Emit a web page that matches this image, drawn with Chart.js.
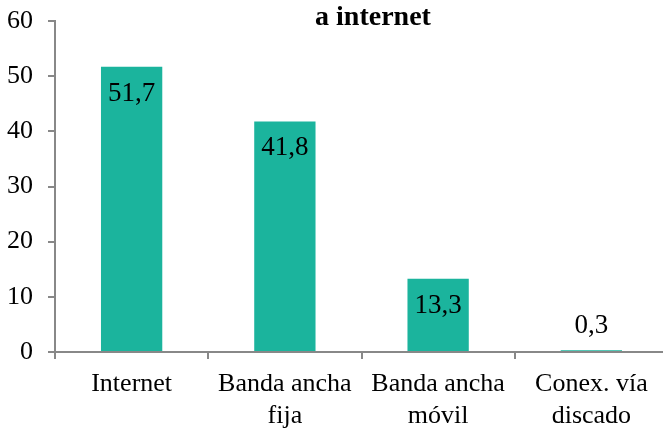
<!DOCTYPE html>
<html>
<head>
<meta charset="utf-8">
<script src="https://cdn.jsdelivr.net/npm/chart.js@4"></script>
<style>
  html, body { margin: 0; padding: 0; background: #fff; overflow: hidden; }
  #wrap { width: 680px; height: 429px; }
</style>
</head>
<body>
<div id="wrap"><canvas id="chart"></canvas></div>
<script>
// datos
const categorias = [['Internet'], ['Banda ancha', 'fija'], ['Banda ancha', 'móvil'], ['Conex. vía', 'discado']];
const valores = [51.7, 41.8, 13.3, 0.3];
const titulo = 'a internet';

const fuente = "'Liberation Serif', 'Times New Roman', serif";

// etiquetas de valor estilo Excel (coma decimal)
const etiquetas = {
  id: 'etiquetas',
  afterDatasetsDraw(chart) {
    const ctx = chart.ctx;
    const meta = chart.getDatasetMeta(0);
    ctx.save();
    ctx.font = '27px ' + fuente;
    ctx.fillStyle = '#000';
    ctx.textAlign = 'center';
    ctx.textBaseline = 'middle';
    meta.data.forEach((bar, i) => {
      const txt = valores[i].toFixed(1).replace('.', ',');
      const alto = bar.base - bar.y;
      const y = alto > 40 ? bar.y + 27 : bar.y - 24;
      ctx.fillText(txt, bar.x, y);
    });
    // título (recortado arriba en el original)
    ctx.font = 'bold 28px ' + fuente;
    ctx.fillText(titulo, 373, 18);
    ctx.restore();
  }
};

const ctx = document.getElementById('chart').getContext('2d');
new Chart(ctx, {
  type: 'bar',
  data: {
    labels: categorias,
    datasets: [{
      data: valores,
      backgroundColor: '#1bb49d',
      barPercentage: 0.4,
      categoryPercentage: 1
    }]
  },
  options: {
    responsive: true,
    maintainAspectRatio: false,
    animation: false,
    layout: { padding: { left: 0, right: 12, top: 21, bottom: 0 } },
    plugins: {
      legend: { display: false },
      title: { display: false },
      tooltip: { enabled: false }
    },
    scales: {
      x: {
        afterFit(scale) { scale.height = 77; },
        grid: { drawOnChartArea: false, offset: true, color: '#888', lineWidth: 2, tickLength: 7 },
        border: { color: '#888', width: 2 },
        ticks: { color: '#000', font: { family: fuente, size: 26, lineHeight: 1.2 }, padding: 10, maxRotation: 0 }
      },
      y: {
        min: 0,
        max: 60,
        afterFit(scale) { scale.width = 55; scale.paddingTop = 0; scale.paddingBottom = 0; },
        grid: { drawOnChartArea: false, color: '#888', lineWidth: 2, tickLength: 7 },
        border: { color: '#888', width: 2 },
        ticks: { stepSize: 10, color: '#000', font: { family: fuente, size: 26 }, padding: 15 }
      }
    }
  },
  plugins: [etiquetas]
});
</script>
</body>
</html>
